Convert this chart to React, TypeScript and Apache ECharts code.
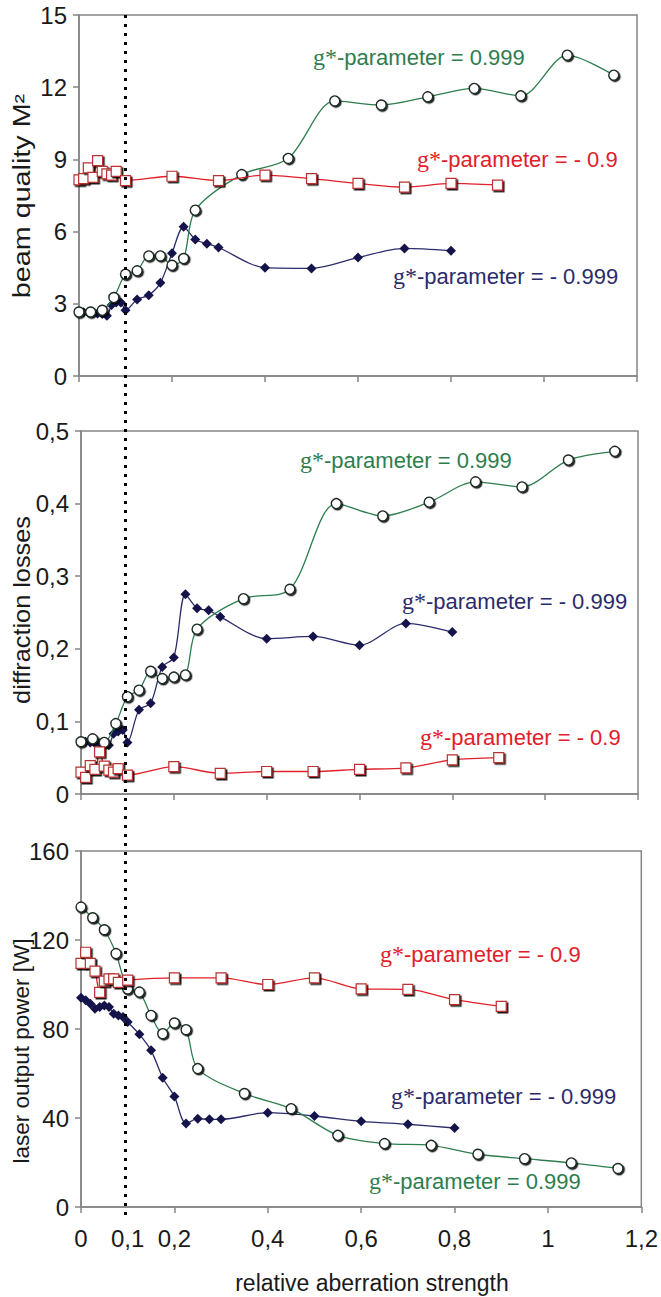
import React, { useEffect, useRef } from 'react';
import * as echarts from 'echarts';

const GREEN = '#2e7d4e';
const RED = '#e0202a';
const NAVY = '#2b2b6b';
const FRAME = '#858585';
const FONT = 'Liberation Sans, Arial, sans-serif';
const SERIF = 'Liberation Serif, Times New Roman, serif';

// x values (relative aberration strength)
const xGreen = [0, 0.025, 0.05, 0.075, 0.1, 0.125, 0.15, 0.175, 0.2, 0.225, 0.25, 0.35, 0.45, 0.55, 0.65, 0.75, 0.85, 0.95, 1.05, 1.15];
const xNavy = [0, 0.01, 0.02, 0.03, 0.04, 0.05, 0.06, 0.07, 0.08, 0.09, 0.1, 0.125, 0.15, 0.175, 0.2, 0.225, 0.25, 0.275, 0.3, 0.4, 0.5, 0.6, 0.7, 0.8];
const xRed = [0, 0.01, 0.02, 0.03, 0.04, 0.05, 0.06, 0.07, 0.08, 0.1, 0.2, 0.3, 0.4, 0.5, 0.6, 0.7, 0.8, 0.9];

// beam quality M²
const m2Green = [2.66, 2.66, 2.73, 3.26, 4.23, 4.37, 4.99, 4.99, 4.6, 4.88, 6.89, 8.37, 9.04, 11.43, 11.26, 11.6, 11.95, 11.64, 13.33, 12.5];
const m2Navy = [2.65, 2.65, 2.64, 2.62, 2.6, 2.58, 2.5, 2.95, 3.05, 3.05, 2.73, 3.18, 3.36, 3.87, 5.1, 6.2, 5.67, 5.5, 5.34, 4.5, 4.47, 4.92, 5.3, 5.2];
const m2Red = [8.15, 8.2, 8.65, 8.25, 8.95, 8.5, 8.4, 8.35, 8.5, 8.12, 8.3, 8.12, 8.35, 8.2, 8.0, 7.85, 8.0, 7.93];

// diffraction losses
const lossGreen = [0.072, 0.076, 0.071, 0.097, 0.134, 0.143, 0.169, 0.159, 0.161, 0.164, 0.227, 0.269, 0.282, 0.4, 0.383, 0.402, 0.43, 0.423, 0.46, 0.472];
const lossNavy = [0.072, 0.072, 0.071, 0.07, 0.07, 0.068, 0.067, 0.083, 0.086, 0.088, 0.071, 0.116, 0.125, 0.175, 0.188, 0.275, 0.256, 0.253, 0.244, 0.214, 0.217, 0.205, 0.235, 0.223];
const lossRed = [0.03, 0.023, 0.039, 0.034, 0.058, 0.0385, 0.033, 0.03, 0.035, 0.026, 0.0376, 0.0285, 0.031, 0.031, 0.034, 0.036, 0.047, 0.05];

// laser output power [W]
const powGreen = [134.8, 130, 124.6, 113.9, 98, 96.6, 86.1, 77.9, 82.7, 79.7, 62.2, 51, 44.2, 32.2, 28.5, 27.7, 23.7, 21.7, 19.8, 17.3];
const powNavy = [94.1, 92.9, 91.4, 89.1, 89.9, 90.6, 89.9, 86.9, 86.1, 85.4, 83.1, 77.6, 70.4, 58.1, 49.7, 37.5, 39.7, 39.4, 39.4, 42.4, 40.9, 38.5, 37.2, 35.5];
const powRed = [109.5, 114.5, 109.5, 106, 96.5, 101.5, 102.5, 102.5, 101, 102, 103, 103, 100, 103, 98, 97.8, 93.2, 90.2];

const xTicks = [0, 0.2, 0.4, 0.6, 0.8, 1, 1.2];
const xLabels = [0, 0.1, 0.2, 0.4, 0.6, 0.8, 1, 1.2];

const yTitles = ['beam quality M²', 'diffraction losses', 'laser output power [W]'];
const xTitle = 'relative aberration strength';
const labelGreen = '{g|g*}-parameter = 0.999';
const labelRed = '{g|g*}-parameter = - 0.9';
const labelNavy = '{g|g*}-parameter = - 0.999';

const pairs = (xs: number[], ys: number[]) => xs.map((x, i) => [x, ys[i]]);
const comma = (v: number) => String(Math.round(v * 1000) / 1000).replace('.', ',');

export default function App() {
  const ref = useRef<HTMLDivElement>(null);
  useEffect(() => {
    if (!ref.current) return;
    const chart = echarts.init(ref.current, undefined, { renderer: 'svg' });

    const grids = [
      { left: 79, top: 15, width: 558, height: 361 },
      { left: 81, top: 431, width: 557, height: 363 },
      { left: 81, top: 851, width: 561, height: 356 },
    ];
    const yDefs = [
      { min: 0, max: 15, interval: 3, fmt: (v: number) => String(v) },
      { min: 0, max: 0.5, interval: 0.1, fmt: comma },
      { min: 0, max: 160, interval: 40, fmt: (v: number) => String(v) },
    ];
    const panels = [
      [m2Green, m2Navy, m2Red],
      [lossGreen, lossNavy, lossRed],
      [powGreen, powNavy, powRed],
    ];

    const series: any[] = [];
    panels.forEach((p, i) => {
      series.push({
        type: 'line', xAxisIndex: i, yAxisIndex: i, data: pairs(xNavy, p[1]), smooth: 0.3,
        symbol: 'diamond', symbolSize: 10, lineStyle: { color: NAVY, width: 1.3 },
        itemStyle: { color: '#14144a', borderWidth: 0 }, z: 2,
      });
      series.push({
        type: 'line', xAxisIndex: i, yAxisIndex: i, data: pairs(xGreen, p[0]), smooth: 0.3,
        symbol: 'circle', symbolSize: 10, lineStyle: { color: GREEN, width: 1.3 },
        itemStyle: {
          color: '#ffffff', borderColor: '#1c2a22', borderWidth: 1.4,
          shadowColor: 'rgba(0,0,0,0.85)', shadowOffsetX: 1.3, shadowOffsetY: 1.3, shadowBlur: 1,
        }, z: 3,
      });
      series.push({
        type: 'line', xAxisIndex: i, yAxisIndex: i, data: pairs(xRed, p[2]), smooth: 0.3,
        symbol: 'rect', symbolSize: 10, lineStyle: { color: RED, width: 1.3 },
        itemStyle: {
          color: '#ffffff', borderColor: '#b83030', borderWidth: 1.2,
          shadowColor: 'rgba(0,0,0,0.9)', shadowOffsetX: 1.5, shadowOffsetY: 1.5, shadowBlur: 1,
        }, z: 4,
      });
    });

    const option: any = {
      animation: false,
      backgroundColor: '#ffffff',
      grid: grids.map((g) => ({ ...g, show: true, borderColor: FRAME, borderWidth: 1.5, backgroundColor: 'transparent' })),
      xAxis: grids.map((_, i) => ({
        type: 'value', gridIndex: i, min: 0, max: 1.2, interval: 0.2,
        axisLine: { show: true, lineStyle: { color: FRAME, width: 1.5 } },
        axisTick: { show: true, inside: false, length: 6, lineStyle: { color: FRAME, width: 1.5 }, customValues: xTicks },
        splitLine: { show: false },
        axisLabel: i === 2
          ? { show: true, customValues: xLabels, formatter: comma, fontFamily: FONT, fontSize: 24, color: '#1a1a1a', margin: 19 }
          : { show: false },
      })),
      yAxis: grids.map((_, i) => ({
        type: 'value', gridIndex: i, min: yDefs[i].min, max: yDefs[i].max, interval: yDefs[i].interval,
        axisLine: { show: true, lineStyle: { color: FRAME, width: 1.5 } },
        axisTick: { show: true, inside: false, length: 6, lineStyle: { color: FRAME, width: 1.5 } },
        splitLine: { show: false },
        axisLabel: { formatter: yDefs[i].fmt, fontFamily: FONT, fontSize: 24, color: '#1a1a1a', margin: 12 },
      })),
      series,
    };
    chart.setOption(option);

    // reference line at x = 0.1 through the three panels
    const xRef = chart.convertToPixel({ xAxisIndex: 0 }, 0.1) as number;
    const yTop = chart.convertToPixel({ yAxisIndex: 0 }, 15) as number;
    const yBot = (chart.convertToPixel({ yAxisIndex: 2 }, 0) as number) + 8;

    const lbl = (text: string, x: number, y: number, color: string) => ({
      type: 'text', x, y, z: 10,
      style: {
        text, x: 0, y: 0, fill: color, fontFamily: FONT, fontSize: 22, verticalAlign: 'middle', align: 'left',
        rich: { g: { fontFamily: SERIF, fontSize: 24, fill: color } },
      },
    });
    const title = (text: string, x: number, y: number, rot: number, stretch: number, size: number) => ({
      type: 'text', x, y, rotation: rot, scaleX: stretch, scaleY: 1, z: 10,
      style: { text, fill: '#1a1a1a', fontFamily: FONT, fontSize: size, align: 'center', verticalAlign: 'middle' },
    });

    chart.setOption({
      graphic: [
        { type: 'line', z: 20, shape: { x1: xRef, y1: yTop, x2: xRef, y2: yBot }, style: { stroke: '#000', lineWidth: 3, lineDash: [3, 6] } },
        lbl(labelGreen, 313, 57, GREEN),
        lbl(labelRed, 417, 159, RED),
        lbl(labelNavy, 393, 276, NAVY),
        lbl(labelGreen, 300, 460, GREEN),
        lbl(labelNavy, 402, 601, NAVY),
        lbl(labelRed, 420, 737, RED),
        lbl(labelRed, 380, 954, RED),
        lbl(labelNavy, 391, 1096, NAVY),
        lbl(labelGreen, 369, 1181, GREEN),
        title(yTitles[0], 22, 196, Math.PI / 2, 1.25, 23),
        title(yTitles[1], 22, 610, Math.PI / 2, 1.1, 23),
        title(yTitles[2], 21, 1051, Math.PI / 2, 1.0, 22.5),
        title(xTitle, 372, 1283, 0, 1.0, 23),
      ],
    });

    return () => chart.dispose();
  }, []);
  return <div ref={ref} style={{ position: 'fixed', left: 0, top: 0, width: 661, height: 1297, background: '#fff' }} />;
}
